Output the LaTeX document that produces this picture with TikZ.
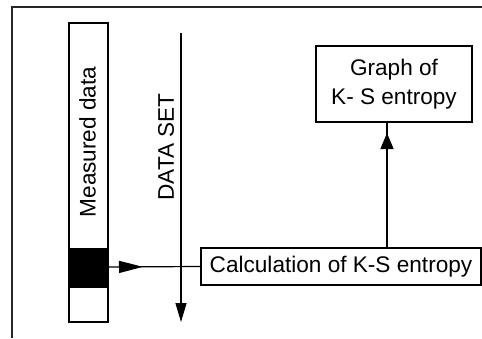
\documentclass[tikz,border=0pt]{standalone}
\usepackage{fontspec}
\setmainfont{Liberation Sans}
\usetikzlibrary{arrows.meta,decorations.markings}
\begin{document}
\begin{tikzpicture}[x=1pt,y=-1pt,
  txt/.style={font=\fontsize{22.6}{29}\selectfont, inner sep=0pt},
  boxnode/.style={draw, line width=1.4pt, inner sep=0pt, txt},
  conn/.style={line width=1.2pt}]
\useasboundingbox (0,0) rectangle (482,338);
\fill[white] (0,0) rectangle (482,338);
\draw[line width=2pt, color=black!85] (12,338) -- (12,7) -- (482,7);
% measured data bar
\node[boxnode, minimum width=39pt, minimum height=299pt] (bar) at (88.5,172.5) {};
\fill[black] (69,248) rectangle (108,288);
\coordinate (barout) at (108,267);
\node[txt, rotate=90] (mdtext) at (87.5,142) {Measured data};
% data set arrow
\coordinate (dsTop) at (181,33);
\coordinate (dsBot) at (181,322);
\draw[conn, -{Triangle[length=19pt,width=11pt]}] (dsTop) -- (dsBot);
\node[txt, rotate=90] (dstext) at (166,147) {DATA SET};
% calculation box
\node[boxnode, minimum width=280pt, minimum height=37pt] (calc) at (341,266.5) {Calculation of K-S entropy};
% graph box
\node[boxnode, minimum width=156pt, minimum height=76pt, align=center] (graph) at (394,84) {Graph of\\K- S entropy};
\coordinate (calcTop) at (387,248);
\coordinate (graphBot) at (387,122);
% connectors
\draw[conn, postaction={decorate}, decoration={markings, mark=at position 35pt with {\arrow{Triangle[length=24pt,width=12pt]}}}] (barout) -- (calc.west);
\draw[conn, postaction={decorate}, decoration={markings, mark=at position 115pt with {\arrow{Triangle[length=16pt,width=13pt]}}}] (calcTop) -- (graphBot);
\end{tikzpicture}
\end{document}
